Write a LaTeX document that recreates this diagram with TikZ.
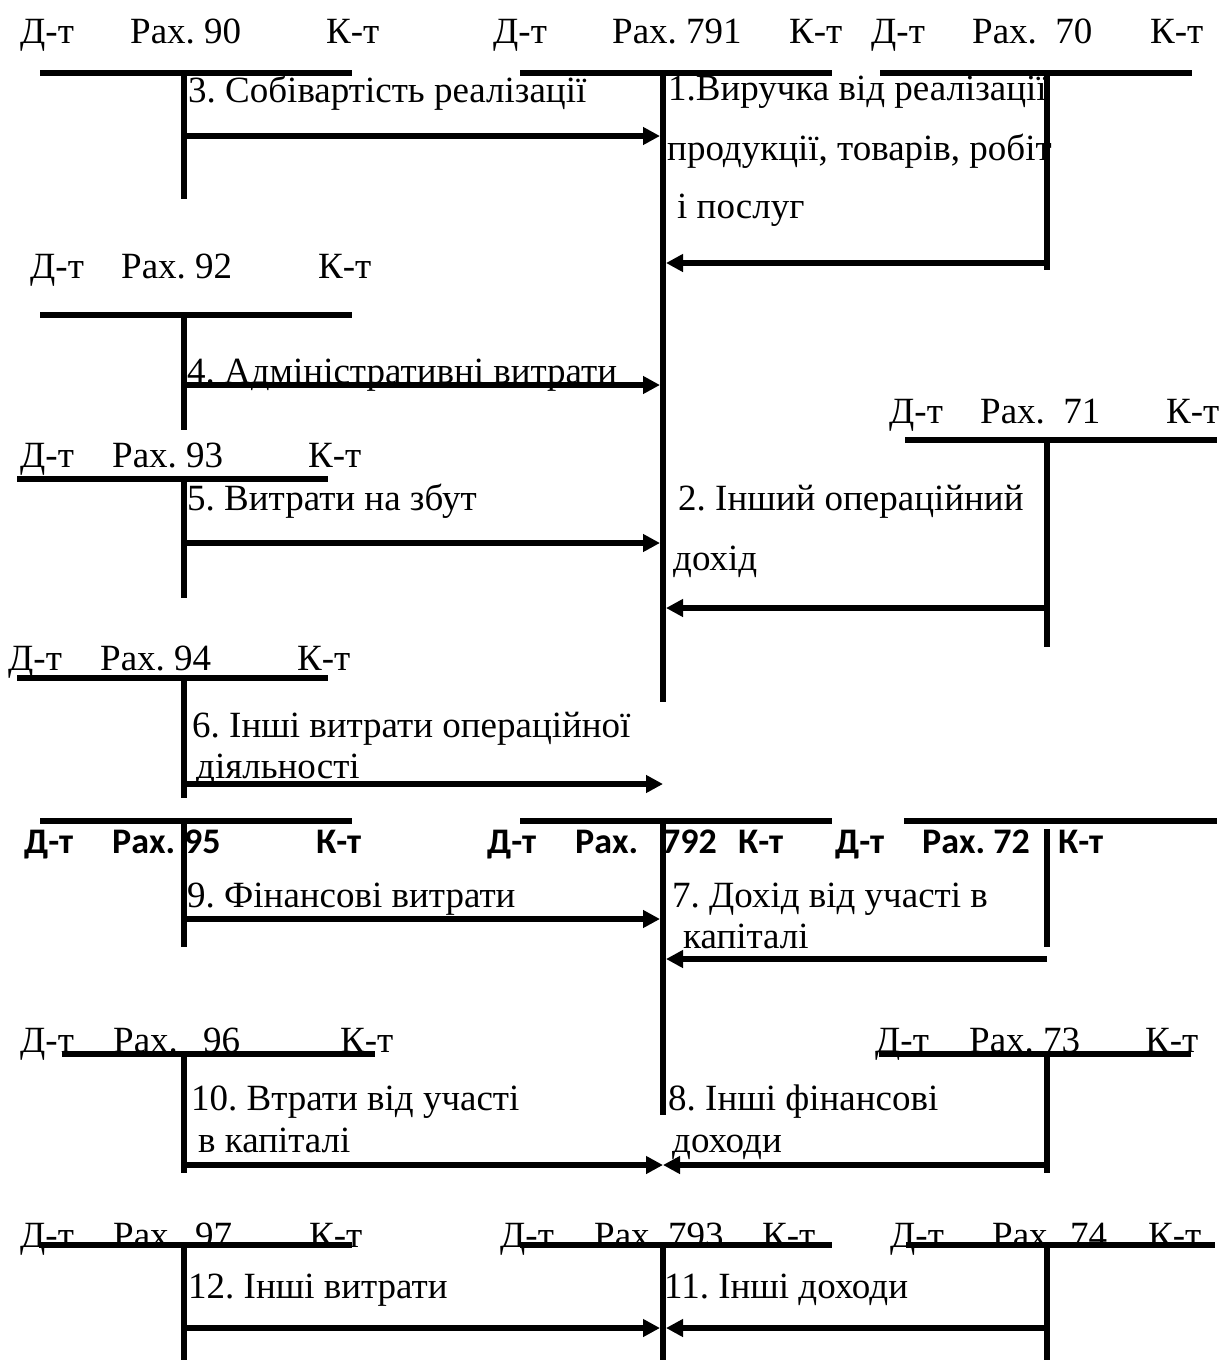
\documentclass[tikz,border=0pt]{standalone}
\usepackage{fontspec}
\setmainfont{Liberation Serif}
\newfontfamily\carlito{Carlito}
\usetikzlibrary{arrows.meta}
\frenchspacing
\tikzset{
  tline/.style={line width=6.5pt, line cap=butt},
  vline/.style={line width=6pt, line cap=butt},
  arr/.style={line width=6pt, line cap=butt, -{Triangle[length=17pt,width=17pt]}},
  lbl/.style={anchor=base west, inner sep=0pt, font=\fontsize{37}{44}\selectfont},
  blbl/.style={anchor=base west, inner sep=0pt, font=\carlito\bfseries\fontsize{36}{43}\selectfont},
}
\begin{document}
\begin{tikzpicture}[x=1pt,y=-1pt]
\useasboundingbox[fill=white] (0,0) rectangle (1225,1360);

% ---------- labels ----------
% row 1
\node[lbl] (d90)  at (20,43)  {Д-т};
\node[lbl] (r90)  at (130,43) {Рах. 90};
\node[lbl] (k90)  at (326,43) {К-т};
\node[lbl] (d791) at (493,43) {Д-т};
\node[lbl] (r791) at (612,43) {Рах. 791};
\node[lbl] (k791) at (789,43) {К-т};
\node[lbl] (d70)  at (871,43) {Д-т};
\node[lbl] (r70)  at (972,43) {Рах.\hspace{0.5em}70};
\node[lbl] (k70)  at (1150,43) {К-т};
% row 92
\node[lbl] (d92) at (30,278)  {Д-т};
\node[lbl] (r92) at (121,278) {Рах. 92};
\node[lbl] (k92) at (318,278) {К-т};
% row 71
\node[lbl] (d71) at (889,423)  {Д-т};
\node[lbl] (r71) at (980,423)  {Рах.\hspace{0.5em}71};
\node[lbl] (k71) at (1166,423) {К-т};
% row 93
\node[lbl] (d93) at (20,467)  {Д-т};
\node[lbl] (r93) at (112,467) {Рах. 93};
\node[lbl] (k93) at (308,467) {К-т};
% row 94
\node[lbl] (d94) at (8,670)   {Д-т};
\node[lbl] (r94) at (100,670) {Рах. 94};
\node[lbl] (k94) at (297,670) {К-т};
% bold row
\node[blbl] (d95)  at (24,853)  {Д-т};
\node[blbl] (r95)  at (112,853) {Рах.};
\node[blbl] (n95)  at (184,853) {95};
\node[blbl] (k95)  at (316,853) {К-т};
\node[blbl] (d792) at (487,853) {Д-т};
\node[blbl] (r792) at (575,853) {Рах.};
\node[blbl] (n792) at (662,853) {792};
\node[blbl] (k792) at (738,853) {К-т};
\node[blbl] (d72)  at (835,853) {Д-т};
\node[blbl] (r72)  at (922,853) {Рах. 72};
\node[blbl] (k72)  at (1058,853) {К-т};
% row 96 / 73
\node[lbl] (d96) at (20,1052)  {Д-т};
\node[lbl] (r96) at (113,1052) {Рах.};
\node[lbl] (n96) at (203,1052) {96};
\node[lbl] (k96) at (340,1052) {К-т};
\node[lbl] (d73) at (875,1052) {Д-т};
\node[lbl] (r73) at (969,1052) {Рах. 73};
\node[lbl] (k73) at (1145,1052) {К-т};
% row 97 / 793 / 74
\node[lbl] (d97)  at (20,1247)  {Д-т};
\node[lbl] (r97)  at (113,1247) {Рах.};
\node[lbl] (n97)  at (195,1247) {97};
\node[lbl] (k97)  at (309,1247) {К-т};
\node[lbl] (d793) at (500,1247) {Д-т};
\node[lbl] (r793) at (594,1247) {Рах. 793};
\node[lbl] (k793) at (762,1247) {К-т};
\node[lbl] (d74)  at (890,1247) {Д-т};
\node[lbl] (r74)  at (992,1247) {Рах.};
\node[lbl] (n74)  at (1070,1247) {74};
\node[lbl] (k74)  at (1148,1247) {К-т};

% ---------- operation texts ----------
\node[lbl] (t3)  at (188,102)  {3. Собівартість реалізації};
\node[lbl] (t1a) at (668,100)  {1.Виручка від реалізації};
\node[lbl] (t1b) at (667,160)  {продукції, товарів, робіт};
\node[lbl] (t1c) at (677,218)  {і послуг};
\node[lbl] (t4)  at (187,383)  {4. Адміністративні витрати};
\node[lbl] (t2a) at (678,510)  {2. Інший операційний};
\node[lbl] (t2b) at (673,570)  {дохід};
\node[lbl] (t5)  at (187,510)  {5. Витрати на збут};
\node[lbl] (t6a) at (192,737)  {6. Інші витрати операційної};
\node[lbl] (t6b) at (196,778)  {діяльності};
\node[lbl] (t9)  at (187,907)  {9. Фінансові витрати};
\node[lbl] (t7a) at (672,907)  {7. Дохід від участі в};
\node[lbl] (t7b) at (683,948)  {капіталі};
\node[lbl] (t10a) at (191,1110) {10. Втрати від участі};
\node[lbl] (t10b) at (198,1152) {в капіталі};
\node[lbl] (t8a) at (668,1110) {8. Інші фінансові};
\node[lbl] (t8b) at (672,1152) {доходи};
\node[lbl] (t12) at (188,1298) {12. Інші витрати};
\node[lbl] (t11) at (664,1298) {11. Інші доходи};

% ---------- T-accounts ----------
% coordinates: account column positions
\coordinate (A90l) at (40,73);   \coordinate (A90r) at (352,73);
\coordinate (A90t) at (184,73);  \coordinate (A90b) at (184,199);
\coordinate (A791l) at (520,73); \coordinate (A791r) at (832,73);
\coordinate (A791t) at (663,73); \coordinate (A791b) at (663,702);
\coordinate (A70l) at (880,73);  \coordinate (A70r) at (1192,73);
\coordinate (A70t) at (1047,73); \coordinate (A70b) at (1047,270);
\coordinate (A92l) at (40,315);  \coordinate (A92r) at (352,315);
\coordinate (A92t) at (184,315); \coordinate (A92b) at (184,430);
\coordinate (A71l) at (905,440); \coordinate (A71r) at (1217,440);
\coordinate (A71t) at (1047,440); \coordinate (A71b) at (1047,647);
\coordinate (A93l) at (17,479);  \coordinate (A93r) at (328,479);
\coordinate (A93t) at (184,479); \coordinate (A93b) at (184,598);
\coordinate (A94l) at (17,678);  \coordinate (A94r) at (328,678);
\coordinate (A94t) at (184,678); \coordinate (A94b) at (184,798);
\coordinate (A95l) at (40,821);  \coordinate (A95r) at (352,821);
\coordinate (A95t) at (184,821); \coordinate (A95b) at (184,947);
\coordinate (A792l) at (520,821); \coordinate (A792r) at (832,821);
\coordinate (A792t) at (663,821); \coordinate (A792b) at (663,1115);
\coordinate (A72l) at (904,821); \coordinate (A72r) at (1217,821);
\coordinate (A72t) at (1047,829); \coordinate (A72b) at (1047,947);
\coordinate (A96l) at (62,1054); \coordinate (A96r) at (375,1054);
\coordinate (A96t) at (184,1054); \coordinate (A96b) at (184,1173);
\coordinate (A73l) at (879,1054); \coordinate (A73r) at (1191,1054);
\coordinate (A73t) at (1047,1054); \coordinate (A73b) at (1047,1173);
\coordinate (A97l) at (39,1245); \coordinate (A97r) at (352,1245);
\coordinate (A97t) at (184,1245); \coordinate (A97b) at (184,1360);
\coordinate (A793l) at (520,1245); \coordinate (A793r) at (832,1245);
\coordinate (A793t) at (663,1245); \coordinate (A793b) at (663,1360);
\coordinate (A74l) at (906,1245); \coordinate (A74r) at (1215,1245);
\coordinate (A74t) at (1047,1245); \coordinate (A74b) at (1047,1360);

\foreach \a in {90,791,70,92,71,93,94,95,792,72,96,73,97,793,74}{
  \draw[tline] (A\a l) -- (A\a r);
  \draw[vline] (A\a t) -- (A\a b);
}

% ---------- arrows ----------
\coordinate (s3) at (184,136);   \coordinate (e3) at (660,136);
\coordinate (s1) at (1047,263);  \coordinate (e1) at (666,263);
\coordinate (s4) at (184,385);   \coordinate (e4) at (660,385);
\coordinate (s5) at (184,543);   \coordinate (e5) at (660,543);
\coordinate (s2) at (1047,608);  \coordinate (e2) at (666,608);
\coordinate (s6) at (184,784);   \coordinate (e6) at (663,784);
\coordinate (s9) at (184,919);   \coordinate (e9) at (660,919);
\coordinate (s7) at (1047,959);  \coordinate (e7) at (666,959);
\coordinate (s10) at (184,1165); \coordinate (e10) at (663,1165);
\coordinate (s8) at (1047,1165); \coordinate (e8) at (663,1165);
\coordinate (s12) at (184,1328); \coordinate (e12) at (660,1328);
\coordinate (s11) at (1047,1328); \coordinate (e11) at (666,1328);

\foreach \k in {3,1,4,5,2,6,9,7,10,8,12,11}{
  \draw[arr] (s\k) -- (e\k);
}
\end{tikzpicture}
\end{document}
